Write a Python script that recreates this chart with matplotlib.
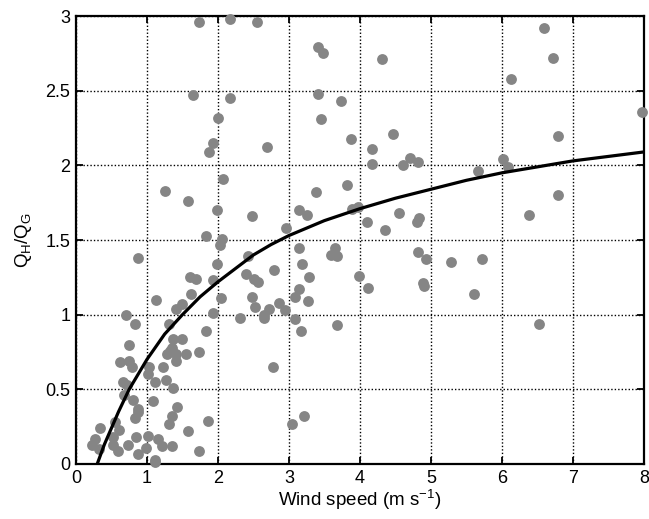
import numpy as np
import matplotlib.pyplot as plt

plt.rcParams["font.family"] = ["Liberation Sans", "DejaVu Sans"]
plt.rcParams["mathtext.fontset"] = "custom"
plt.rcParams["mathtext.rm"] = "Liberation Sans"
plt.rcParams["mathtext.it"] = "Liberation Sans"

wind_low = [0.23, 0.27, 0.32, 0.34, 0.55, 0.61, 0.52, 0.52, 0.59,
            0.73, 0.85, 0.87, 0.99, 1.01, 1.11, 1.12, 1.15, 1.21, 1.35, 1.73,
            1.58, 1.86, 1.31, 1.35, 1.42, 1.08, 0.80, 0.87, 0.87, 0.83,
            0.68, 0.66, 0.72, 1.11, 1.27, 1.37, 1.01, 1.03, 1.23, 0.62,
            0.75, 0.79, 0.75, 1.41, 1.28, 1.41, 1.55, 1.73, 1.37, 1.49,
            1.35, 1.32, 0.83, 1.31, 1.83, 0.71, 1.13, 1.41, 1.49, 1.62,
            1.93, 2.04, 1.61, 1.69, 1.93, 1.99, 0.87, 1.83, 2.06, 2.03,
            1.99, 1.58, 1.25, 2.07, 1.87, 1.93, 2.00, 1.65, 2.17, 1.73, 2.17]
ratio_low = [0.13, 0.17, 0.10, 0.24, 0.28, 0.23, 0.18, 0.13, 0.09,
             0.13, 0.18, 0.07, 0.11, 0.19, 0.03, 0.01, 0.17, 0.12, 0.12, 0.09,
             0.22, 0.29, 0.27, 0.32, 0.38, 0.42, 0.43, 0.37, 0.35, 0.31,
             0.46, 0.55, 0.53, 0.55, 0.56, 0.51, 0.60, 0.65, 0.65, 0.68,
             0.69, 0.65, 0.80, 0.69, 0.74, 0.74, 0.74, 0.75, 0.84, 0.84,
             0.78, 0.76, 0.94, 0.94, 0.89, 1.00, 1.10, 1.04, 1.07, 1.14,
             1.01, 1.11, 1.25, 1.24, 1.23, 1.34, 1.38, 1.53, 1.51, 1.47,
             1.70, 1.76, 1.83, 1.91, 2.09, 2.15, 2.32, 2.47, 2.45, 2.96, 2.98]

wind_mid = [2.55, 3.41, 3.48, 3.41, 3.73, 3.45, 2.69, 3.87, 4.17, 4.17,
            4.31, 4.47, 4.71, 4.82, 4.61, 2.48, 3.38, 3.82, 3.14, 3.25,
            2.96, 3.89, 3.98, 4.10, 4.35, 4.55, 4.83, 4.80, 3.14, 3.65,
            3.60, 3.68, 4.82, 2.42, 4.93, 5.28, 5.72, 4.89, 4.90, 5.61,
            6.52, 3.18, 3.28, 2.39, 2.51, 2.56, 2.79, 3.99, 4.12, 2.48,
            2.52, 3.14, 3.08, 3.27, 2.86, 2.72, 2.94, 2.65, 2.65, 2.31,
            3.08, 3.17, 3.68, 2.77, 3.04, 3.21]
ratio_mid = [2.96, 2.79, 2.75, 2.48, 2.43, 2.31, 2.12, 2.18, 2.11, 2.01,
             2.71, 2.21, 2.05, 2.02, 2.00, 1.66, 1.82, 1.87, 1.70, 1.67,
             1.58, 1.71, 1.72, 1.62, 1.57, 1.68, 1.65, 1.62, 1.45, 1.45,
             1.40, 1.39, 1.42, 1.39, 1.37, 1.35, 1.37, 1.21, 1.19, 1.14,
             0.94, 1.34, 1.25, 1.27, 1.24, 1.22, 1.30, 1.26, 1.18, 1.12,
             1.05, 1.17, 1.12, 1.09, 1.08, 1.04, 1.03, 1.00, 0.98, 0.98,
             0.97, 0.89, 0.93, 0.65, 0.27, 0.32]

wind_high = [6.59, 6.72, 6.13, 7.97, 6.79, 6.01, 6.09, 5.66, 6.79, 6.38]
ratio_high = [2.92, 2.72, 2.58, 2.36, 2.20, 2.04, 1.99, 1.96, 1.80, 1.67]

# fitted curve
fit_wind = [0.30, 0.40, 0.50, 0.60, 0.75, 0.90, 1.0, 1.25, 1.5, 1.75, 2.0, 2.25,
            2.5, 2.75, 3.0, 3.5, 4.0, 4.5, 5.0, 5.5, 6.0, 6.5, 7.0, 7.5, 8.0]
fit_ratio = [0.0, 0.13, 0.24, 0.35, 0.50, 0.62, 0.70, 0.87, 1.00, 1.12, 1.22, 1.31,
             1.40, 1.47, 1.53, 1.63, 1.71, 1.78, 1.84, 1.90, 1.95, 1.99, 2.03, 2.06, 2.09]

wind = np.array(wind_low + wind_mid + wind_high)
ratio = np.array(ratio_low + ratio_mid + ratio_high)

fig = plt.figure(figsize=(6.49, 5.19), dpi=100)
ax = fig.add_axes([0.117, 0.106, 0.875, 0.863])

ax.plot(wind, ratio, "o", color="#858585", markersize=7.8, markeredgewidth=0, zorder=3, clip_on=False)
ax.plot(fit_wind, fit_ratio, "-", color="black", linewidth=2.3, zorder=4,
        solid_joinstyle="round", solid_capstyle="butt")

ax.set_xlim(0, 8)
ax.set_ylim(0, 3)
ax.set_xticks(range(0, 9))
ax.set_yticks([0, 0.5, 1, 1.5, 2, 2.5, 3])
ax.set_yticklabels(["0", "0.5", "1", "1.5", "2", "2.5", "3"])
ax.grid(True, color="black", linestyle=(0, (1, 1.5)), linewidth=1.0)
ax.set_axisbelow(True)
ax.tick_params(direction="in", top=True, right=True, length=5, width=1.3, labelsize=13, pad=4)
for sp in ax.spines.values():
    sp.set_linewidth(1.6)

ax.set_xlabel("Wind speed (m s$^{-1}$)", fontsize=13.5, labelpad=1)
ax.set_ylabel("Q$_H$/Q$_G$", fontsize=13.5, labelpad=8)

fig.savefig("out.png", dpi=100)
